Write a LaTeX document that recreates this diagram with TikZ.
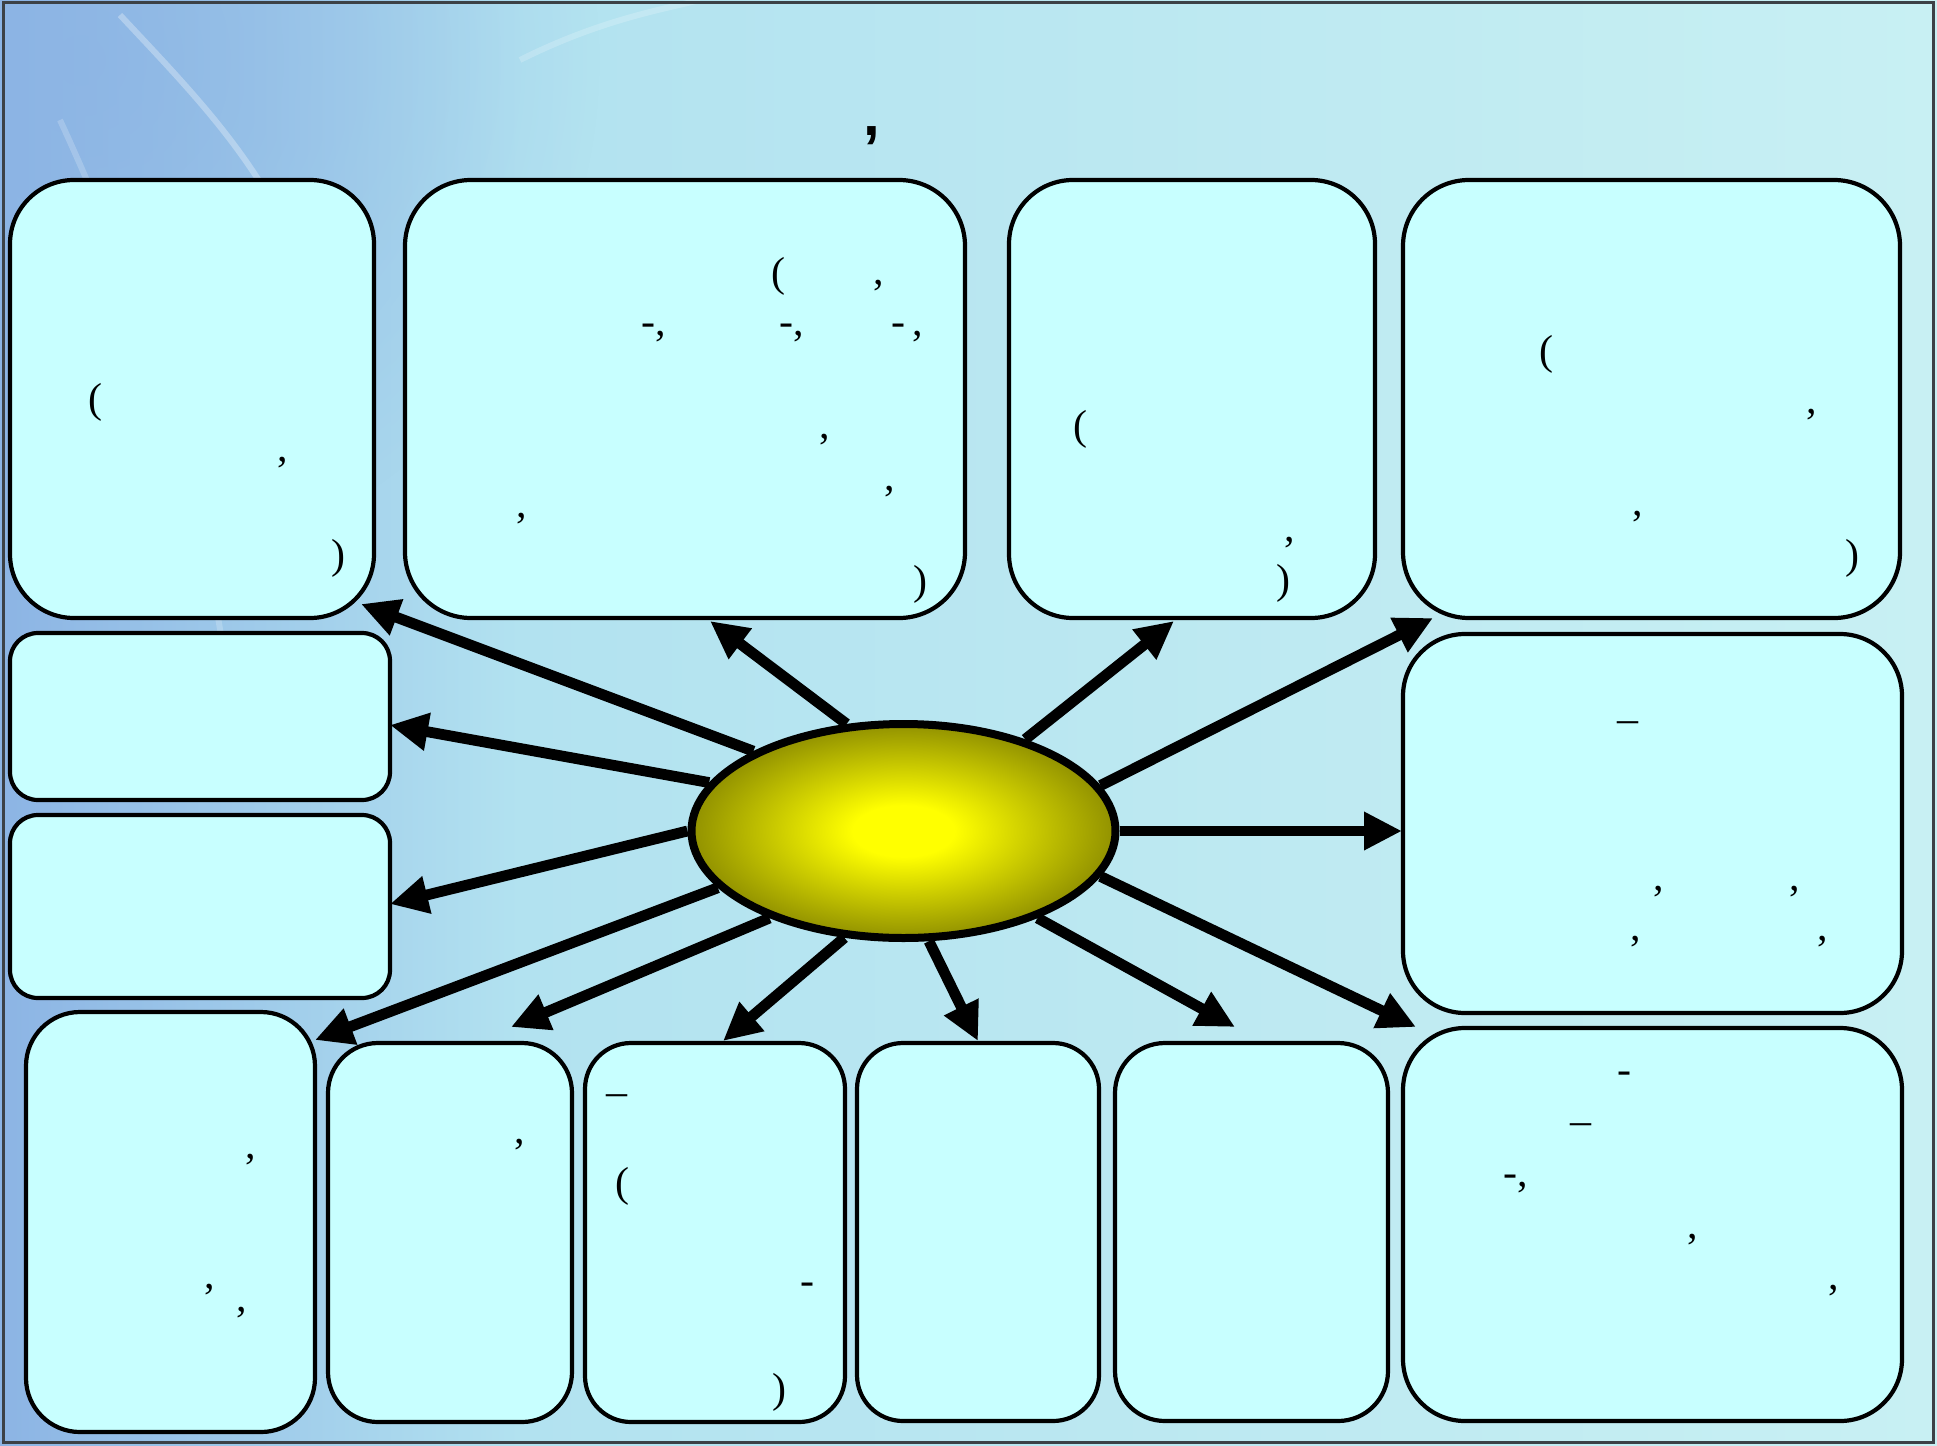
\documentclass[tikz,border=0pt]{standalone}
\usepackage{fontspec}
\setmainfont{Liberation Serif}
\newfontfamily\titlefont{Liberation Sans}
\usetikzlibrary{shapes.geometric,arrows.meta,fadings}
\definecolor{boxfill}{RGB}{200,255,255}
\definecolor{bgblue}{RGB}{140,180,228}
\definecolor{bgmid}{RGB}{178,226,240}
\definecolor{bglight}{RGB}{200,240,243}
\definecolor{olivedark}{RGB}{122,122,0}
\definecolor{framecol}{RGB}{60,65,70}
\pgfdeclareradialshading{eggshade}{\pgfpoint{0bp}{0bp}}{color(0bp)=(yellow); color(6bp)=(yellow); color(29bp)=(olivedark); color(50bp)=(olivedark)}
\tikzfading[name=softspot, inner color=transparent!0, outer color=transparent!100]
\begin{document}
\begin{tikzpicture}[x=0.5pt,y=-0.5pt,
  box/.style={draw=black, line width=2.1pt, fill=boxfill, rectangle, inner sep=0pt},
  punct/.style={inner sep=0pt, font=\fontsize{21}{25}\selectfont},
  arr/.style={line width=5.4pt, -{Triangle[length=19pt,width=18pt]}},
  streak/.style={white, opacity=0.3, line width=3pt}
]
\useasboundingbox (0,0) rectangle (1937,1445);
% background
\shade[left color=bgblue, right color=bgmid] (0,0) rectangle (520,1445);
\shade[left color=bgmid, right color=bglight] (520,0) rectangle (1937,1445);
\begin{scope}
\clip (0,0) rectangle (1937,1445);
\fill[bgblue, path fading=softspot, opacity=0.7] (80,60) circle (520);
\end{scope}
\draw[streak] (120,15) .. controls (190,90) and (260,160) .. (300,260);
\draw[streak, opacity=0.2] (60,120) .. controls (120,250) and (200,450) .. (230,700);
\draw[streak, opacity=0.2] (520,60) .. controls (600,20) and (660,10) .. (700,0);
\draw[framecol, line width=1.5pt] (3,3) rectangle (1933,1442);

% title
\node[inner sep=0pt, font=\titlefont\bfseries\fontsize{30}{34}\selectfont] (title) at (872,136) {,};

% boxes
\node[box, minimum width=182pt, minimum height=219pt, rounded corners=32pt] (b1) at (192,399) {};
\node[box, minimum width=280pt, minimum height=219pt, rounded corners=33pt] (b2) at (685,399) {};
\node[box, minimum width=183pt, minimum height=219pt, rounded corners=32pt] (b3) at (1192,399) {};
\node[box, minimum width=248.5pt, minimum height=219pt, rounded corners=33pt] (b4) at (1651.5,399) {};
\node[box, minimum width=190pt, minimum height=83.5pt, rounded corners=14pt] (b5) at (200,716.5) {};
\node[box, minimum width=190pt, minimum height=91.5pt, rounded corners=14pt] (b6) at (200,906.5) {};
\node[box, minimum width=249.5pt, minimum height=189.5pt, rounded corners=31pt] (b7) at (1652.5,823.5) {};
\node[box, minimum width=144.5pt, minimum height=210pt, rounded corners=27pt] (b8) at (170.5,1222) {};
\node[box, minimum width=122pt, minimum height=189.5pt, rounded corners=25pt] (b9) at (450,1232.5) {};
\node[box, minimum width=130pt, minimum height=189.5pt, rounded corners=23pt] (b10) at (715,1232.5) {};
\node[box, minimum width=121pt, minimum height=189pt, rounded corners=23pt] (b11) at (978,1232) {};
\node[box, minimum width=136.5pt, minimum height=189pt, rounded corners=25pt] (b12) at (1251.5,1232) {};
\node[box, minimum width=249.5pt, minimum height=196.5pt, rounded corners=31pt] (b13) at (1652.5,1224.5) {};

% central ellipse
\node[ellipse, draw=black, line width=4pt, shading=eggshade, minimum width=212pt, minimum height=107pt, inner sep=0pt] (ell) at (903.5,831) {};

% arrow tips
\coordinate (t1) at (361,604);
\coordinate (t2) at (710,621);
\coordinate (t3) at (1174,621);
\coordinate (t4) at (1433,618);
\coordinate (t5) at (390,725);
\coordinate (t6) at (390,904);
\coordinate (t7) at (1402,831);
\coordinate (t8) at (1416,1027);
\coordinate (t9) at (315,1040);
\coordinate (t10) at (511,1027);
\coordinate (t11) at (723,1041);
\coordinate (t12) at (978,1041);
\coordinate (t13) at (1235,1027);

\draw[arr] (ell.152.5) -- (t1);
\draw[arr] (ell.118.7) -- (t2);
\draw[arr] (ell.37.4) -- (t3);
\draw[arr] (ell.13) -- (t4);
\draw[arr] (ell.166.4) -- (t5);
\draw[arr] (ell.180.4) -- (t6);
\draw[arr] (ell.0) -- (t7);
\draw[arr] (ell.347.3) -- (t8);
\draw[arr] (ell.197.6) -- (t9);
\draw[arr] (ell.213.1) -- (t10);
\draw[arr] (ell.241.6) -- (t11);
\draw[arr] (ell.283.8) -- (t12);
\draw[arr] (ell.327.1) -- (t13);

% punctuation box 1
\node[punct] (p1a) at (95,402) {(};
\node[punct] (p1b) at (283,463) {,};
\node[punct] (p1c) at (338,558) {)};
% box 2
\node[punct] (p2a) at (778,276) {(};
\node[punct] (p2b) at (879,286) {,};
\node[punct] (p2c) at (654,333) {-,};
\node[punct] (p2d) at (792,333) {-,};
\node[punct] (p2e) at (907,333) {-\,,};
\node[punct] (p2f) at (825,440) {,};
\node[punct] (p2g) at (890,492) {,};
\node[punct] (p2h) at (522,519) {,};
\node[punct] (p2i) at (920,584) {)};
% box 3
\node[punct] (p3a) at (1080,429) {(};
\node[punct] (p3b) at (1290,543) {,};
\node[punct] (p3c) at (1283,583) {)};
% box 4
\node[punct] (p4a) at (1546,354) {(};
\node[punct] (p4b) at (1812,415) {,};
\node[punct] (p4c) at (1638,517) {,};
\node[punct] (p4d) at (1852,558) {)};
% box 7
\node[punct] (p7a) at (1628,727) {–};
\node[punct] (p7b) at (1659,892) {,};
\node[punct] (p7c) at (1795,892) {,};
\node[punct] (p7d) at (1636,942) {,};
\node[punct] (p7e) at (1823,942) {,};
% box 8
\node[punct] (p8a) at (251,1160) {,};
\node[punct] (p8b) at (210,1290) {,};
\node[punct] (p8c) at (242,1313) {,};
% box 9
\node[punct] (p9a) at (520,1145) {,};
% box 10
\node[punct] (p10a) at (617,1100) {–};
\node[punct] (p10b) at (622,1186) {(};
\node[punct] (p10c) at (807,1289) {-};
\node[punct] (p10d) at (779,1392) {)};
% box 13
\node[punct] (p13a) at (1624,1078) {-};
\node[punct] (p13b) at (1581,1129) {–};
\node[punct] (p13c) at (1516,1184) {-,};
\node[punct] (p13d) at (1693,1240) {,};
\node[punct] (p13e) at (1834,1291) {,};
\end{tikzpicture}
\end{document}
